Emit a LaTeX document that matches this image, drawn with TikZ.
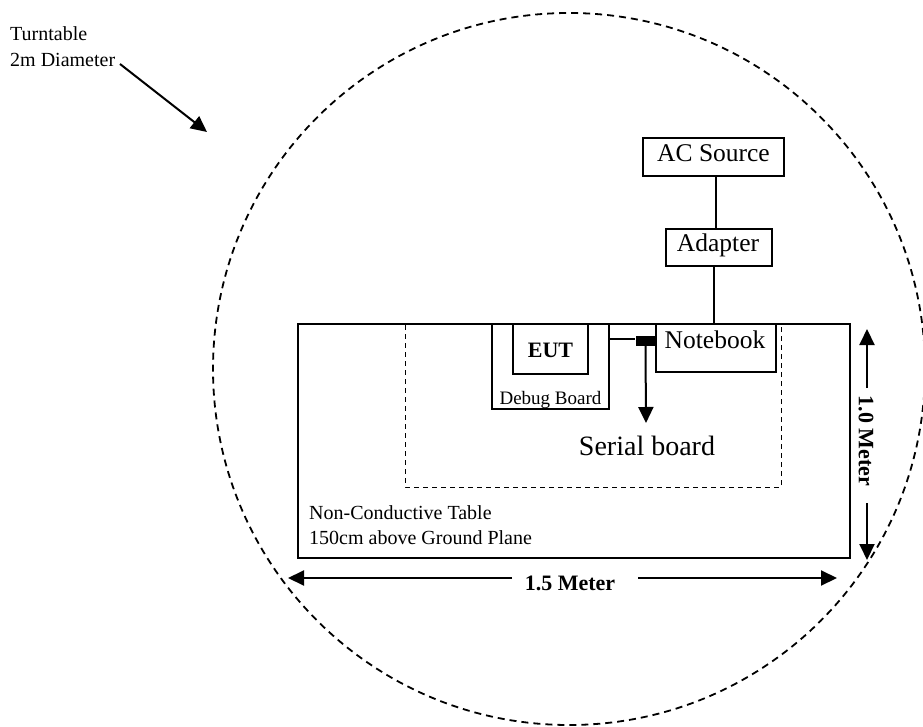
\documentclass[tikz,border=0pt]{standalone}
\usepackage{fontspec}
\setmainfont{Liberation Serif}
\usetikzlibrary{arrows.meta}
\begin{document}
\begin{tikzpicture}[x=1pt,y=-1pt,
  box/.style={draw,line width=1.8pt,inner sep=0pt},
  txt/.style={inner sep=0pt,anchor=base},
  big/.style={font=\fontsize{25.5}{28}\selectfont},
  small/.style={font=\fontsize{20}{22}\selectfont},
  tip/.style={-{Triangle[length=16pt,width=15pt]},line width=2pt},
  wire/.style={line width=1.9pt}]
\useasboundingbox (0,0) rectangle (923,727);
% turntable
\draw[dashed,dash pattern=on 7pt off 5pt,line width=1.8pt] (569,369) circle (356);
\node[txt,small,anchor=base west] (tt1) at (10,41) {Turntable};
\node[txt,small,anchor=base west] (tt2) at (10,67) {2m Diameter};
\coordinate (ttA) at (120,64);
\coordinate (ttB) at (207,132);
\draw[tip] (ttA) -- (ttB);
% table
\node[draw,line width=2.6pt,minimum width=552pt,minimum height=234pt,inner sep=0pt] (table) at (574,441) {};
\draw[dashed,dash pattern=on 5pt off 4pt,line width=1pt] (405,325) -- (405,487) -- (781,487) -- (781,325);
\node[txt,small,anchor=base west] (nct) at (309,519) {Non-Conductive Table};
\node[txt,small,anchor=base west] (gp) at (309,544) {150cm above Ground Plane};
% boxes
\node[box,minimum width=141pt,minimum height=38pt] (ac) at (713.5,157) {};
\node[txt,big] (acl) at (713.5,162) {AC Source};
\node[box,minimum width=106pt,minimum height=37pt] (ad) at (719,247.5) {};
\node[txt,big] (adl) at (718,252) {Adapter};
\draw[wire] (ac.south -| 716,0) -- (ad.north -| 716,0);
\node[box,minimum width=120pt,minimum height=48pt] (nb) at (716,348) {};
\node[txt,big] (nbl) at (715,348) {Notebook};
\draw[wire] (ad.south -| 714,0) -- (714,324);
\node[box,minimum width=117pt,minimum height=85pt] (db) at (550.5,366.5) {};
\node[txt,font=\fontsize{19}{21}\selectfont] (dbl) at (550.5,404) {Debug Board};
\node[box,minimum width=75pt,minimum height=50pt] (eut) at (550.5,349) {};
\node[txt,font=\bfseries\fontsize{22}{24}\selectfont] (eutl) at (550.5,357) {EUT};
\node[fill=black,inner sep=0pt,minimum width=20pt,minimum height=10pt] (blk) at (645.5,340.5) {};
\draw[wire] (db.east |- 0,339) -- (blk.west |- 0,339);
\coordinate (sbt) at (646,423);
\draw[tip] (blk.south) -- (sbt);
\node[txt,font=\fontsize{28}{30}\selectfont] (sb) at (647,455) {Serial board};
% dimensions
\node[txt,font=\bfseries\fontsize{22}{24}\selectfont] (m15) at (570,590) {1.5 Meter};
\coordinate (l15) at (288,578);
\coordinate (r15) at (837,578);
\draw[tip] (512,578) -- (l15);
\draw[tip] (638,578) -- (r15);
\node[inner sep=0pt,rotate=-90,font=\bfseries\fontsize{22}{24}\selectfont] (m10) at (866,441) {1.0 Meter};
\coordinate (t10) at (867,329);
\coordinate (b10) at (867,560);
\draw[tip] (867,388) -- (t10);
\draw[tip] (867,503) -- (b10);
\end{tikzpicture}
\end{document}
